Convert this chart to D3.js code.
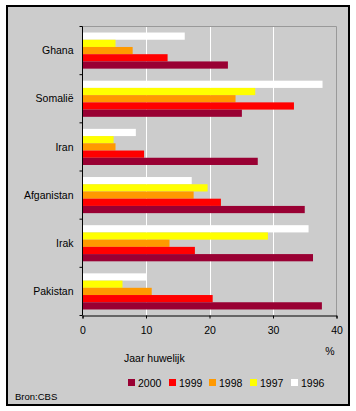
<!DOCTYPE html>
<html><head><meta charset="utf-8">
<script src="https://cdn.jsdelivr.net/npm/d3@7"></script>
<style>html,body{margin:0;padding:0;background:#fff;}svg{display:block;}</style>
</head><body>
<script>
const categories = ["Ghana","Somalië","Iran","Afganistan","Irak","Pakistan"];
const years = ["1996","1997","1998","1999","2000"];
const v1996 = [16.1, 37.8, 8.4, 17.2, 35.6, 10.0];
const v1997 = [5.2, 27.2, 4.9, 19.7, 29.2, 6.3];
const v1998 = [7.9, 24.1, 5.2, 17.5, 13.7, 10.9];
const v1999 = [13.4, 33.3, 9.7, 21.8, 17.7, 20.5];
const v2000 = [22.9, 25.1, 27.6, 35.0, 36.3, 37.7];
const seriesValues = {"1996": v1996, "1997": v1997, "1998": v1998, "1999": v1999, "2000": v2000};
const colors = {"1996":"#FFFFFF","1997":"#FFFF00","1998":"#FF9900","1999":"#FF0000","2000":"#990033"};
const xTicks = [0,10,20,30,40];
const legendOrder = ["2000","1999","1998","1997","1996"];

(function(){
const W = 356, H = 411;
const font = "Arial, 'Liberation Sans', sans-serif";
const svg = d3.select("body").append("svg").attr("width", W).attr("height", H)
  .style("font-family", font);

svg.append("rect").attr("x",0).attr("y",0).attr("width",W).attr("height",H).attr("fill","#fff");
svg.append("rect").attr("x",7).attr("y",6).attr("width",342).attr("height",399)
  .attr("fill","#CCCCCC").attr("stroke","#000").attr("stroke-width",2);

const pL = 82.5, pR = 336.5, pT = 26.5, pB = 315.5;
const x = d3.scaleLinear().domain([0,40]).range([pL,pR]);
const y = d3.scaleBand().domain(categories).range([pT,pB]).paddingInner(0.25).paddingOuter(0.125);
const y1 = d3.scaleBand().domain(years).range([0, y.bandwidth()]);

// gridlines
svg.append("g").selectAll("line").data(xTicks.filter(d=>d>0 && d<40)).join("line")
  .attr("x1",d=>Math.round(x(d))+0.5).attr("x2",d=>Math.round(x(d))+0.5)
  .attr("y1",pT).attr("y2",pB).attr("stroke","#fff").attr("stroke-width",1);
// plot frame top/right gray
svg.append("path").attr("d",`M${pL},${pT}H${pR}V${pB}`).attr("fill","none")
  .attr("stroke","#999999").attr("stroke-width",1);

// bars
const g = svg.append("g");
categories.forEach((c,i)=>{
  years.forEach(yr=>{
    g.append("rect").attr("x",x(0)).attr("y",y(c)+y1(yr))
      .attr("width",x(seriesValues[yr][i])-x(0)).attr("height",y1.bandwidth())
      .attr("fill",colors[yr]);
  });
});

// left axis
const ly = d3.scaleLinear().domain([0,categories.length]).range([pT,pB]);
const yAxis = svg.append("g").attr("transform",`translate(${pL},0)`);
yAxis.append("line").attr("x1",0).attr("x2",0).attr("y1",pT).attr("y2",pB).attr("stroke","#000");
yAxis.selectAll("line.t").data(d3.range(categories.length+1)).join("line").attr("class","t")
  .attr("x1",-3).attr("x2",0).attr("y1",d=>ly(d)).attr("y2",d=>ly(d)).attr("stroke","#000");
yAxis.selectAll("text").data(categories).join("text")
  .attr("x",-9).attr("y",d=>y(d)+y.bandwidth()/2).attr("dy","0.35em")
  .attr("text-anchor","end").attr("font-size","10.5px").attr("fill","#000").text(d=>d);

// bottom axis
const xAxis = svg.append("g").attr("transform",`translate(0,${pB})`)
  .call(d3.axisBottom(x).tickValues(xTicks).tickSize(3).tickPadding(8));
xAxis.select(".domain").attr("stroke","#000");
xAxis.selectAll(".tick line").attr("stroke","#000");
xAxis.selectAll(".tick text").attr("font-size","10.5px").attr("font-family",font).attr("fill","#000");

svg.append("text").attr("x",330).attr("y",351).attr("dy","0.35em").attr("text-anchor","middle")
  .attr("font-size","10.5px").text("%");
svg.append("text").attr("x",124).attr("y",358).attr("dy","0.35em")
  .attr("font-size","10.5px").text("Jaar huwelijk");

// legend
const legX = [128,169,209,250,291];
const leg = svg.append("g");
legendOrder.forEach((yr,i)=>{
  leg.append("rect").attr("x",legX[i]).attr("y",379).attr("width",7).attr("height",7).attr("fill",colors[yr]);
  leg.append("text").attr("x",legX[i]+10).attr("y",383).attr("dy","0.35em")
    .attr("font-size","10.5px").text(yr);
});

svg.append("text").attr("x",15).attr("y",397).attr("dy","0.35em")
  .attr("font-size","9.5px").text("Bron:CBS");
})();
</script>
</body></html>
